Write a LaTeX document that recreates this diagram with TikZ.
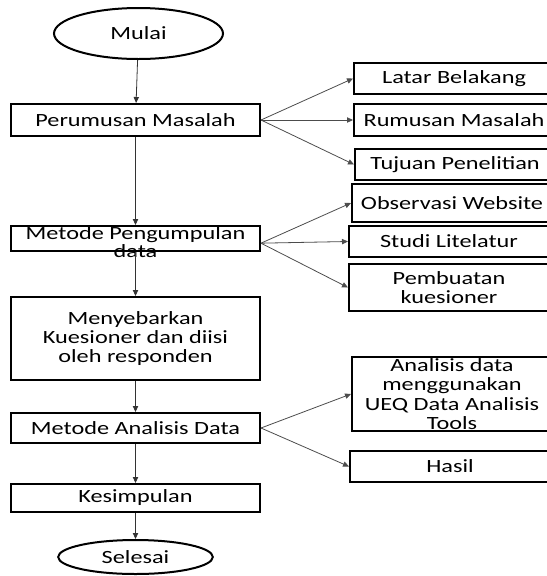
\documentclass[tikz,border=0pt]{standalone}
\usepackage{fontspec}
\setmainfont{Carlito}[FakeStretch=1.3]
\usetikzlibrary{shapes.geometric,arrows.meta}

\begin{document}
\begin{tikzpicture}[x=0.75pt,y=-0.75pt,
    every node/.style={font=\fontsize{14}{14.5}\selectfont, inner sep=0pt},
    flowbox/.style={draw, line width=1.5pt, rectangle, minimum width=186.75pt, align=center},
    subbox/.style={draw, line width=1.5pt, rectangle, minimum width=150pt, anchor=west, align=center},
    termin/.style={draw, line width=1.5pt, ellipse},
    arrowmain/.style={draw=black!80, line width=0.6pt, -{Triangle[length=4.5pt,width=4pt]}},
    arrowfan/.style={draw=black!70, line width=0.6pt, -{Triangle[length=4.5pt,width=4pt]}}]
      \useasboundingbox (0,0) rectangle (547,576);
      \clip (0,0) rectangle (547,576);

      % Main column
      \node[termin, minimum width=126.75pt, minimum height=38.25pt] (mulai) at (138.5,33.5) {Mulai};
      \node[flowbox, minimum height=24pt] (rumus) at (135.5,120) {Perumusan Masalah};
      \node[flowbox, minimum height=18.75pt] (kumpul) at (135.5,238.5) {};
      \node[align=center, font=\fontsize{14}{8.5}\selectfont] (kumpultext) at (135.5,242) {Metode Pengumpulan\\data};
      \node[flowbox, minimum height=62.25pt] (sebar) at (135.5,338.5) {Menyebarkan\\Kuesioner dan diisi\\oleh responden};
      \node[flowbox, minimum height=22.5pt] (analisis) at (135.5,428) {Metode Analisis Data};
      \node[flowbox, minimum height=21pt] (simpul) at (135.5,498) {Kesimpulan};
      \node[termin, minimum width=116pt, minimum height=25.5pt] (selesai) at (135.5,557) {Selesai};

      % Side boxes
      \node[subbox, minimum height=23.25pt] (latar) at (353,78.5) {Latar Belakang};
      \node[subbox, minimum height=24pt] (rmasalah) at (353,120) {Rumusan Masalah};
      \node[subbox, minimum height=23.25pt] (tujuan) at (354,164.5) {Tujuan Penelitian};
      \node[subbox, minimum height=28.5pt] (observasi) at (351,203) {Observasi Website};
      \node[subbox, minimum height=23.25pt] (studi) at (348,241.5) {Studi Litelatur};
      \node[subbox, minimum height=35.25pt] (kuesioner) at (348,287.5) {Pembuatan\\kuesioner};
      \node[subbox, minimum height=55.5pt] (ueq) at (351,394) {Analisis data\\menggunakan\\UEQ Data Analisis\\Tools};
      \node[subbox, minimum height=23.25pt] (hasil) at (349,466.5) {Hasil};

      % Main arrows
      \draw[arrowmain] (mulai) -- (rumus);
      \draw[arrowmain] (rumus) -- (kumpul);
      \draw[arrowmain] (kumpul) -- (sebar);
      \draw[arrowmain] (sebar) -- (analisis);
      \draw[arrowmain] (analisis) -- (simpul);
      \draw[arrowmain] (simpul) -- (selesai);

      % Fans to the side boxes
      \foreach \t in {latar,rmasalah,tujuan}
        \draw[arrowfan] (rumus.east) -- (\t.west);
      \coordinate (kumpulfan) at ([yshift=-3.5pt]kumpul.east);
      \foreach \t in {observasi,studi,kuesioner}
        \draw[arrowfan] (kumpulfan) -- (\t.west);
      \foreach \t in {ueq,hasil}
        \draw[arrowfan] (analisis.east) -- (\t.west);
\end{tikzpicture}
\end{document}
